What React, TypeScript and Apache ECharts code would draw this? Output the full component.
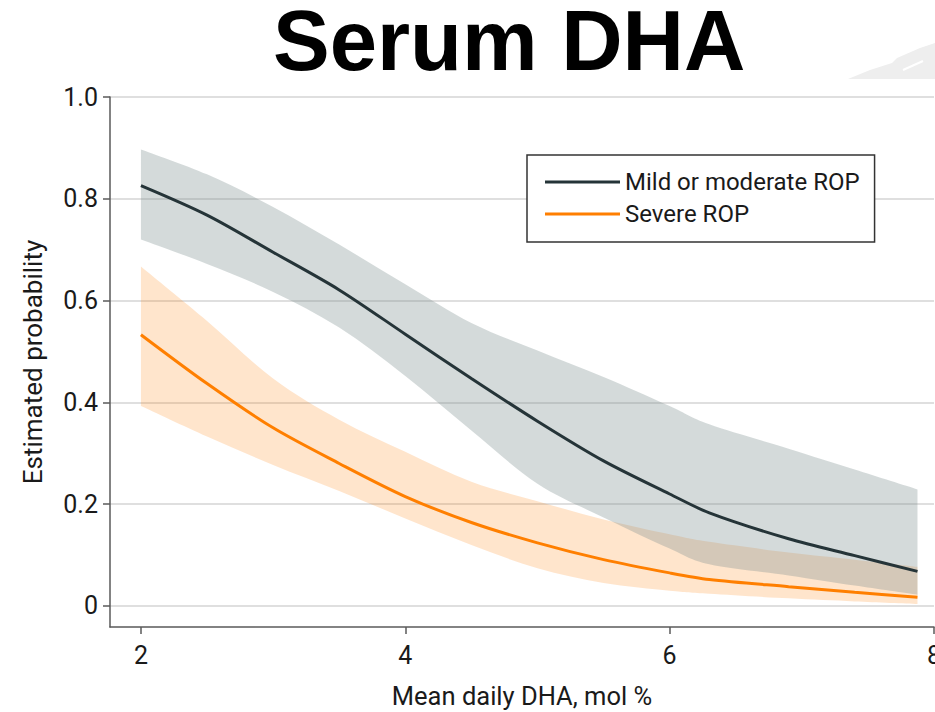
import React, { useEffect, useRef } from "react";
import * as echarts from "echarts";

// Mean daily DHA, mol %
const xValues = [2.0, 2.5, 3.0, 3.5, 4.0, 4.5, 5.0, 5.5, 6.0, 6.3, 6.9, 7.4, 7.875];
// Mild or moderate ROP
const mildEstimate = [0.826, 0.768, 0.695, 0.621, 0.534, 0.447, 0.363, 0.285, 0.22, 0.183, 0.132, 0.099, 0.068];
const mildUpper = [0.897, 0.848, 0.784, 0.71, 0.632, 0.556, 0.502, 0.45, 0.393, 0.357, 0.309, 0.268, 0.229];
const mildLower = [0.72, 0.672, 0.617, 0.547, 0.452, 0.345, 0.24, 0.174, 0.113, 0.082, 0.06, 0.04, 0.022];
// Severe ROP
const severeEstimate = [0.533, 0.437, 0.35, 0.28, 0.215, 0.164, 0.124, 0.091, 0.065, 0.052, 0.038, 0.027, 0.017];
const severeUpper = [0.667, 0.56, 0.447, 0.366, 0.303, 0.244, 0.206, 0.17, 0.141, 0.126, 0.105, 0.091, 0.077];
const severeLower = [0.393, 0.333, 0.277, 0.226, 0.172, 0.12, 0.074, 0.045, 0.03, 0.024, 0.015, 0.009, 0.004];

const xTicks = [2, 4, 6, 8];
const yTicks = [0, 0.2, 0.4, 0.6, 0.8, 1.0];

const SERIES_MILD = "Mild or moderate ROP";
const SERIES_SEVERE = "Severe ROP";
const TITLE = "Serum DHA";

const pairs = (ys: number[]) => xValues.map((x, i) => [x, ys[i]]);

// Catmull-Rom spline through screen points, as cubic Bezier segments
function splineSegments(pts: number[][]): string {
  let d = "";
  for (let i = 0; i < pts.length - 1; i++) {
    const p0 = pts[i - 1] || pts[i];
    const p1 = pts[i];
    const p2 = pts[i + 1];
    const p3 = pts[i + 2] || p2;
    const c1x = p1[0] + (p2[0] - p0[0]) / 6;
    const c1y = p1[1] + (p2[1] - p0[1]) / 6;
    const c2x = p2[0] - (p3[0] - p1[0]) / 6;
    const c2y = p2[1] - (p3[1] - p1[1]) / 6;
    d += ` C${c1x},${c1y} ${c2x},${c2y} ${p2[0]},${p2[1]}`;
  }
  return d;
}

function bandSeries(upper: number[], lower: number[], fill: string, z: number) {
  return {
    type: "custom",
    silent: true,
    z,
    clip: true,
    data: xValues.map((x, i) => [x, lower[i], upper[i]]),
    encode: { x: 0, y: [1, 2] },
    renderItem: (params: any, api: any) => {
      if (params.dataIndex !== 0) return null;
      const up = xValues.map((x, i) => api.coord([x, upper[i]]));
      const lo = xValues.map((x, i) => api.coord([x, lower[i]])).reverse();
      const d =
        `M${up[0][0]},${up[0][1]}` +
        splineSegments(up) +
        ` L${lo[0][0]},${lo[0][1]}` +
        splineSegments(lo) +
        " Z";
      return {
        type: "path",
        shape: { pathData: d },
        style: { fill, stroke: "none" },
      };
    },
  };
}

const FONT = "Roboto, 'Noto Sans', sans-serif";
const AXIS_COLOR = "#5a5a5a";
const TEXT_COLOR = "#1a1a1a";

export default function App() {
  const ref = useRef<HTMLDivElement>(null);
  useEffect(() => {
    if (!ref.current) return;
    const chart = echarts.init(ref.current, undefined, { renderer: "svg" });
    const option: any = {
      animation: false,
      backgroundColor: "#ffffff",
      title: {
        text: TITLE,
        left: 273,
        top: 0,
        padding: 0,
        textStyle: {
          fontFamily: "'Liberation Sans', Arial, sans-serif",
          fontWeight: "bold",
          fontSize: 85,
          lineHeight: 80,
          color: "#000000",
        },
      },
      graphic: [
        {
          type: "polygon",
          silent: true,
          shape: {
            points: [
              [848, 79],
              [870, 70],
              [892, 63],
              [897, 58],
              [920, 48],
              [935, 43],
              [935, 79],
            ],
          },
          style: { fill: "#eeeeee" },
        },
        {
          type: "line",
          silent: true,
          shape: { x1: 903, y1: 70, x2: 923, y2: 61 },
          style: { stroke: "#ffffff", lineWidth: 2 },
        },
      ],
      legend: {
        orient: "vertical",
        left: 527,
        top: 155,
        padding: [15, 15, 16, 18],
        icon: "rect",
        itemWidth: 75,
        itemHeight: 3,
        itemGap: 8,
        borderColor: "#333333",
        borderWidth: 1.5,
        borderRadius: 0,
        backgroundColor: "#ffffff",
        data: [SERIES_MILD, SERIES_SEVERE],
        textStyle: { fontFamily: FONT, fontSize: 24, color: TEXT_COLOR },
      },
      grid: {
        left: 110,
        right: 1,
        top: 97,
        bottom: 85,
        containLabel: false,
        outerBoundsMode: "none",
      },
      xAxis: {
        type: "value",
        min: 1.766,
        max: 8,
        axisLine: { onZero: false, lineStyle: { color: AXIS_COLOR, width: 1.5 } },
        axisTick: { customValues: xTicks, length: 7, lineStyle: { color: AXIS_COLOR, width: 1.5 } },
        axisLabel: {
          customValues: xTicks,
          margin: 16,
          fontFamily: FONT,
          fontSize: 25,
          color: TEXT_COLOR,
          hideOverlap: false,
        },
        splitLine: { show: false },
        name: "Mean daily DHA, mol %",
        nameLocation: "middle",
        nameGap: 56,
        nameTextStyle: { fontFamily: FONT, fontSize: 25.5, color: TEXT_COLOR },
      },
      yAxis: {
        type: "value",
        min: -0.0413,
        max: 1,
        axisLine: { show: true, onZero: false, lineStyle: { color: AXIS_COLOR, width: 1.5 } },
        axisTick: { show: true, customValues: yTicks, length: 7, lineStyle: { color: AXIS_COLOR, width: 1.5 } },
        axisLabel: {
          customValues: yTicks,
          margin: 12,
          fontFamily: FONT,
          fontSize: 25,
          color: TEXT_COLOR,
          formatter: (v: number) => (v === 0 ? "0" : v.toFixed(1)),
        },
        splitLine: { show: true, lineStyle: { color: "#d4d4d4", width: 1.5 } },
        name: "Estimated probability",
        nameLocation: "middle",
        nameGap: 64,
        nameTextStyle: { fontFamily: FONT, fontSize: 26, color: TEXT_COLOR },
      },
      series: [
        bandSeries(severeUpper, severeLower, "rgba(255,127,0,0.2)", 1),
        bandSeries(mildUpper, mildLower, "rgba(125,143,143,0.33)", 2),
        {
          name: SERIES_MILD,
          type: "line",
          data: pairs(mildEstimate),
          symbol: "none",
          smooth: 0.3,
          color: "#253438",
          itemStyle: { color: "#253438" },
          lineStyle: { color: "#253438", width: 3 },
          z: 3,
        },
        {
          name: SERIES_SEVERE,
          type: "line",
          data: pairs(severeEstimate),
          symbol: "none",
          smooth: 0.3,
          color: "#ff7f00",
          itemStyle: { color: "#ff7f00" },
          lineStyle: { color: "#ff7f00", width: 3 },
          z: 3,
        },
      ],
    };
    chart.setOption(option);
    return () => chart.dispose();
  }, []);
  return (
    <div
      ref={ref}
      style={{ position: "absolute", left: 0, top: 0, width: 935, height: 712 }}
    />
  );
}
